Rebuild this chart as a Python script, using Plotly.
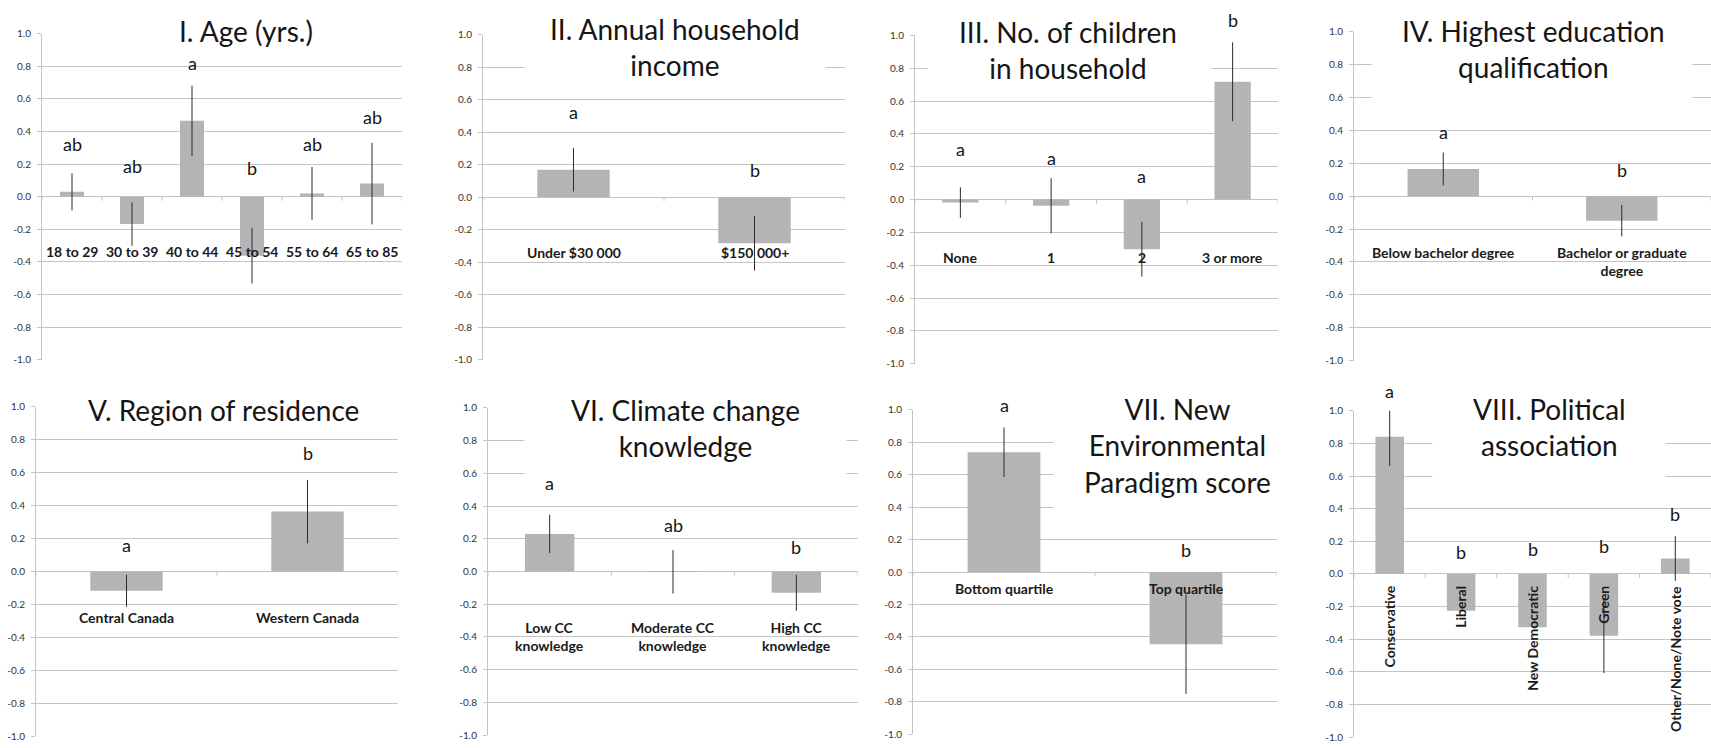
import plotly.graph_objects as go

W, H = 1711, 748

# ---------------- data ----------------
age_labels = ["18 to 29", "30 to 39", "40 to 44", "45 to 54", "55 to 64", "65 to 85"]
age_means = [0.03, -0.168, 0.465, -0.362, 0.02, 0.08]
age_err = [0.114, 0.133, 0.215, 0.17, 0.162, 0.25]
age_groups = ["ab", "ab", "a", "b", "ab", "ab"]

income_labels = ["Under $30 000", "$150 000+"]
income_means = [0.168, -0.283]
income_err = [0.133, 0.168]
income_groups = ["a", "b"]

children_labels = ["None", "1", "2", "3 or more"]
children_means = [-0.018, -0.038, -0.302, 0.718]
children_err = [0.093, 0.168, 0.167, 0.24]
children_groups = ["a", "a", "a", "b"]

education_labels = ["Below bachelor degree", "Bachelor or graduate<br>degree"]
education_means = [0.165, -0.149]
education_err = [0.10, 0.095]
education_groups = ["a", "b"]

region_labels = ["Central Canada", "Western Canada"]
region_means = [-0.117, 0.364]
region_err = [0.097, 0.192]
region_groups = ["a", "b"]

cc_labels = ["Low CC<br>knowledge", "Moderate CC<br>knowledge", "High CC<br>knowledge"]
cc_means = [0.23, -0.002, -0.13]
cc_err = [0.117, 0.133, 0.11]
cc_groups = ["a", "ab", "b"]

nep_labels = ["Bottom quartile", "Top quartile"]
nep_means = [0.739, -0.446]
nep_err = [0.153, 0.306]
nep_groups = ["a", "b"]

politics_labels = ["Conservative", "Liberal", "New Democratic", "Green", "Other/None/Note vote"]
politics_means = [0.841, -0.226, -0.327, -0.378, 0.095]
politics_err = [0.18, 0.0, 0.0, 0.23, 0.137]
politics_groups = ["a", "b", "b", "b", "b"]

y_ticks = [-1.0, -0.8, -0.6, -0.4, -0.2, 0.0, 0.2, 0.4, 0.6, 0.8, 1.0]
y_tick_labels = ["-1.0", "-0.8", "-0.6", "-0.4", "-0.2", "0.0", "0.2", "0.4", "0.6", "0.8", "1.0"]

# ---------------- panel layout (pixels) ----------------
panels = [
    dict(title="I. Age (yrs.)", labels=age_labels, means=age_means, errs=age_err, groups=age_groups,
         plot=(42, 402, 27, 359), title_xy=(246, 24), mask=(247, 29, 220, 42),
         letter_y=[0.295, 0.158, 0.79, 0.148, 0.295, 0.461], label_y=-0.339, label_anchor="middle", label_angle=0),
    dict(title="II. Annual household<br>income", labels=income_labels, means=income_means, errs=income_err,
         groups=income_groups, plot=(483, 845, 28, 359), title_xy=(675, 41), mask=(675, 46, 300, 76),
         letter_y=[0.495, 0.137], label_y=-0.339, label_anchor="middle", label_angle=0),
    dict(title="III. No. of children<br>in household", labels=children_labels, means=children_means,
         errs=children_err, groups=children_groups, plot=(915, 1278, 29, 363), title_xy=(1068, 44),
         mask=(1069, 49, 283, 78),
         letter_y=[0.28, 0.225, 0.112, 1.064], label_y=-0.353, label_anchor="middle", label_angle=0),
    dict(title="IV. Highest education<br>qualification", labels=education_labels, means=education_means,
         errs=education_err, groups=education_groups, plot=(1354, 1711, 25, 360), title_xy=(1533, 43),
         mask=(1532, 48, 320, 100),
         letter_y=[0.358, 0.131], label_y=-0.28, label_anchor="top", label_angle=0),
    dict(title="V. Region of residence", labels=region_labels, means=region_means, errs=region_err,
         groups=region_groups, plot=(36, 398, 407, 742), title_xy=(223, 410), mask=(223, 415, 323, 40),
         letter_y=[0.133, 0.69], label_y=-0.282, label_anchor="middle", label_angle=0),
    dict(title="VI. Climate change<br>knowledge", labels=cc_labels, means=cc_means, errs=cc_err,
         groups=cc_groups, plot=(488, 858, 408, 741), title_xy=(685, 428), mask=(685, 433, 321, 94),
         letter_y=[0.513, 0.254, 0.122], label_y=-0.397, label_anchor="middle", label_angle=0),
    dict(title="VII. New<br>Environmental<br>Paradigm score", labels=nep_labels, means=nep_means,
         errs=nep_err, groups=nep_groups, plot=(913, 1277, 410, 740), title_xy=(1177, 446),
         mask=(1167, 460, 226, 130),
         letter_y=[0.998, 0.107], label_y=-0.103, label_anchor="middle", label_angle=0),
    dict(title="VIII. Political<br>association", labels=politics_labels, means=politics_means,
         errs=politics_err, groups=politics_groups, plot=(1354, 1711, 411, 743), title_xy=(1549, 427),
         mask=(1549, 445, 232, 100),
         letter_y=[1.092, 0.105, 0.125, 0.139, 0.337], label_y=-0.06, label_anchor="top", label_angle=-90),
]

FONT = "Lato"
BAR_COLOR = "#b4b4b4"
GRID_COLOR = "#c4c4c4"
TEXT_COLOR = "#151515"
LETTER_LIFT = 5  # px

fig = go.Figure()
masks, texts, shapes = [], [], []
layout_axes = {}

for i, p in enumerate(panels, start=1):
    sfx = "" if i == 1 else str(i)
    xref, yref = f"x{sfx}", f"y{sfx}"
    n = len(p["labels"])
    idx = list(range(n))
    x0, x1, y0, y1 = p["plot"]

    fig.add_trace(go.Bar(
        x=idx, y=p["means"], width=0.4, xaxis=xref, yaxis=yref,
        marker=dict(color=BAR_COLOR, line=dict(width=0)),
        error_y=dict(type="data", array=p["errs"], visible=True,
                     color="#2a2a2a", thickness=1, width=0),
        hoverinfo="skip",
    ))

    layout_axes[f"xaxis{sfx}"] = dict(
        domain=[x0 / W, x1 / W], range=[-0.5, n - 0.5], anchor=yref,
        showticklabels=False, showgrid=False, zeroline=False, showline=False, ticks="",
    )
    layout_axes[f"yaxis{sfx}"] = dict(
        domain=[1 - y1 / H, 1 - y0 / H], range=[-1, 1], anchor=xref,
        tickmode="array", tickvals=y_ticks, ticktext=y_tick_labels,
        showgrid=True, gridcolor=GRID_COLOR, gridwidth=1, zeroline=False,
        showline=True, linecolor=GRID_COLOR, linewidth=1,
        ticks="outside", ticklen=4, tickcolor=GRID_COLOR, ticklabelstandoff=4,
        tickfont=dict(family=FONT, size=10, color="#333333"),
    )

    # category boundary ticks along the zero line
    for k in range(n + 1):
        shapes.append(dict(type="line", xref=xref, yref=yref, x0=k - 0.5, x1=k - 0.5,
                           y0=0, y1=-0.025, line=dict(color=GRID_COLOR, width=1), layer="above"))

    # category labels
    for k, lab in enumerate(p["labels"]):
        texts.append(dict(
            xref=xref, yref=yref, x=k, y=p["label_y"], text=f"<b>{lab}</b>", showarrow=False,
            xanchor="center", yanchor=p["label_anchor"], textangle=p["label_angle"],
            font=dict(family=FONT, size=14, color="#1a1a1a"), align="center",
        ))

    # significance group letters (paper coordinates so they may sit above the plot area)
    dom_lo, dom_hi = 1 - y1 / H, 1 - y0 / H
    for k, g in enumerate(p["groups"]):
        yp = dom_lo + (p["letter_y"][k] + 1) / 2 * (dom_hi - dom_lo) + LETTER_LIFT / H
        texts.append(dict(
            xref=xref, yref="paper", x=k, y=yp, text=g, showarrow=False,
            xanchor="center", yanchor="middle",
            font=dict(family=FONT, size=18, color=TEXT_COLOR),
        ))

    # white box behind the panel title
    mx, my, mw, mh = p["mask"]
    masks.append(dict(
        xref="paper", yref="paper", x=mx / W, y=1 - my / H, text=" ", showarrow=False,
        xanchor="center", yanchor="middle", width=mw, height=mh, bgcolor="white", borderpad=0,
    ))
    tx, ty = p["title_xy"]
    texts.append(dict(
        xref="paper", yref="paper", x=tx / W, y=1 - ty / H, text=p["title"], showarrow=False,
        xanchor="center", yanchor="middle", align="center",
        font=dict(family=FONT, size=28, color=TEXT_COLOR),
    ))

fig.update_layout(
    width=W, height=H, margin=dict(l=0, r=0, t=0, b=0),
    paper_bgcolor="white", plot_bgcolor="white", showlegend=False,
    annotations=masks + texts, shapes=shapes, **layout_axes,
)

fig.write_html("out.html")
